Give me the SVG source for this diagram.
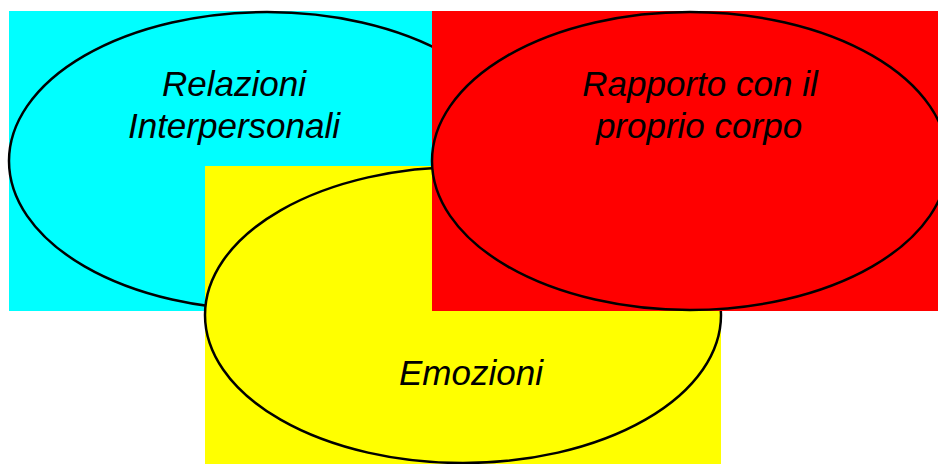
<svg xmlns="http://www.w3.org/2000/svg" width="938" height="464" viewBox="0 0 938 464">
<style>
.el{stroke:#000;stroke-width:2.5}
.t{font-family:"Liberation Sans",Arial,sans-serif;font-style:italic;font-size:35px;fill:#000;text-anchor:middle}
</style>
<rect width="938" height="464" fill="#fff"/>
<g id="relazioni">
<rect x="9" y="11" width="423" height="300" fill="#00ffff"/>
<ellipse class="el" cx="267" cy="161" rx="258" ry="149" fill="#00ffff"/>
<text class="t" x="234" y="96">Relazioni</text>
<text class="t" x="234" y="138">Interpersonali</text>
</g>
<g id="emozioni">
<rect x="205" y="166" width="516" height="298" fill="#ffff00"/>
<ellipse class="el" cx="463" cy="315" rx="258" ry="148" fill="#ffff00"/>
<text class="t" x="471" y="385">Emozioni</text>
</g>
<g id="corpo">
<rect x="432" y="11" width="506" height="300" fill="#ff0000"/>
<ellipse class="el" cx="690" cy="161" rx="258" ry="149" fill="#ff0000"/>
<text class="t" x="700" y="96">Rapporto con il</text>
<text class="t" x="699" y="138">proprio corpo</text>
</g>
<g id="connectors"/>
</svg>
